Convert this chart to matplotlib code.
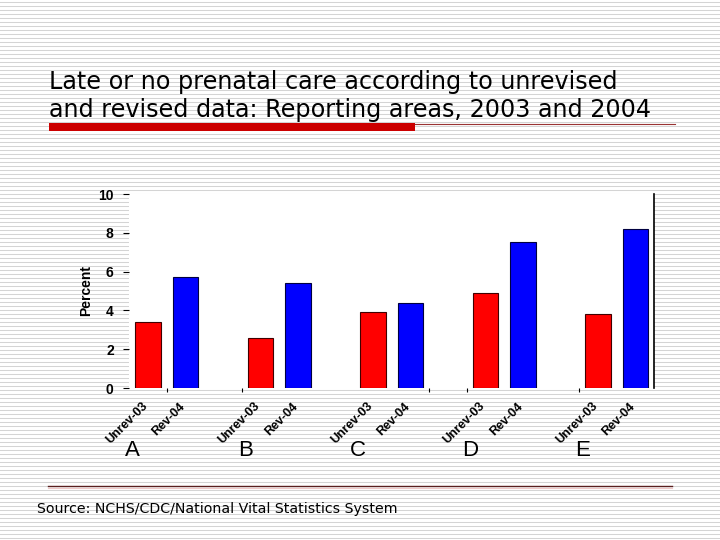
import numpy as np
import matplotlib.pyplot as plt

# --- data ---
GROUPS = ['A', 'B', 'C', 'D', 'E']
SERIES_LABELS = ['Unrev-03', 'Rev-04']
UNREV_03 = [3.4, 2.6, 3.9, 4.9, 3.8]
REV_04 = [5.7, 5.4, 4.4, 7.5, 8.2]
Y_TICKS = [0, 2, 4, 6, 8, 10]

TITLE_LINES = ['Late or no prenatal care according to unrevised',
               'and revised data: Reporting areas, 2003 and 2004']
SOURCE = 'Source: NCHS/CDC/National Vital Statistics System'

RED = '#FF0000'
BLUE = '#0000FF'

fig = plt.figure(figsize=(7.2, 5.4), dpi=100)

# background slide: white with thin grey horizontal stripes
bg = fig.add_axes([0, 0, 1, 1], zorder=-10)
bg.set_xlim(0, 720)
bg.set_ylim(540, 0)
bg.axis('off')
for yy in np.arange(1.5, 540, 4):
    bg.axhline(yy, color='#d4d4d4', lw=0.75, zorder=1)

# title underline: thick red bar + thin dark red line
bg.fill_between([49, 415], 123, 131, color='#CC0000', lw=0, zorder=5)
bg.plot([415, 675], [123.5, 123.5], color='#993333', lw=0.8, zorder=5)
# bottom rule
bg.plot([48, 672], [486, 486], color='#5a2020', lw=1.0, zorder=5)
bg.plot([48, 672], [487.5, 487.5], color='#f0c8c8', lw=0.8, zorder=5)

fig.text(49 / 720, 1 - 89 / 540, TITLE_LINES[0], fontsize=17.2,
         family='DejaVu Sans', va='baseline', ha='left')
fig.text(49 / 720, 1 - 117 / 540, TITLE_LINES[1], fontsize=17.2,
         family='DejaVu Sans', va='baseline', ha='left')
fig.text(37 / 720, 1 - 513 / 540, SOURCE, fontsize=10.2,
         family='DejaVu Sans', va='baseline', ha='left')

# --- chart ---
ax = fig.add_axes([129 / 720, 1 - 388 / 540, 525 / 720, 194 / 540])
ax.set_facecolor('white')

# slots: Unrev, Rev, gap per group (last gap dropped)
n_slots = len(GROUPS) * 3 - 1
red_x = np.arange(len(GROUPS)) * 3 + 0.5
blue_x = red_x + 1
width = 0.68

ax.bar(red_x, UNREV_03, width, color=RED, edgecolor='#400000', lw=0.8, zorder=3)
ax.bar(blue_x, REV_04, width, color=BLUE, edgecolor='#000040', lw=0.8, zorder=3)

ax.set_xlim(0, n_slots)
ax.set_ylim(0, 10)
ax.set_yticks(Y_TICKS)
ax.set_yticklabels([str(t) for t in Y_TICKS], fontsize=10,
                   fontweight='bold', family='Liberation Sans')
ax.tick_params(axis='y', length=4, width=0.8, pad=7, color='black')

ax.set_xticks([1, 3, 8, 9, 12])
ax.set_xticklabels([])
ax.tick_params(axis='x', length=3, width=0.8, color='black')

for side in ['left', 'top', 'bottom']:
    ax.spines[side].set_visible(False)
ax.spines['right'].set_linewidth(1.2)

ax.set_ylabel('Percent', fontsize=10, fontweight='bold',
              family='Liberation Sans', labelpad=4)

# rotated series labels and group letters
for i, g in enumerate(GROUPS):
    for x, lab in [(red_x[i], SERIES_LABELS[0]), (blue_x[i], SERIES_LABELS[1])]:
        ax.text(x - 0.05, -0.85, lab, rotation=45, rotation_mode='anchor',
                ha='right', va='center', fontsize=9, fontweight='bold',
                family='Liberation Sans', clip_on=False)
    ax.text(red_x[i] - 0.4, -3.2, g, ha='center', va='center', fontsize=16,
            family='Liberation Sans', clip_on=False)

fig.savefig('out.png', dpi=100)
